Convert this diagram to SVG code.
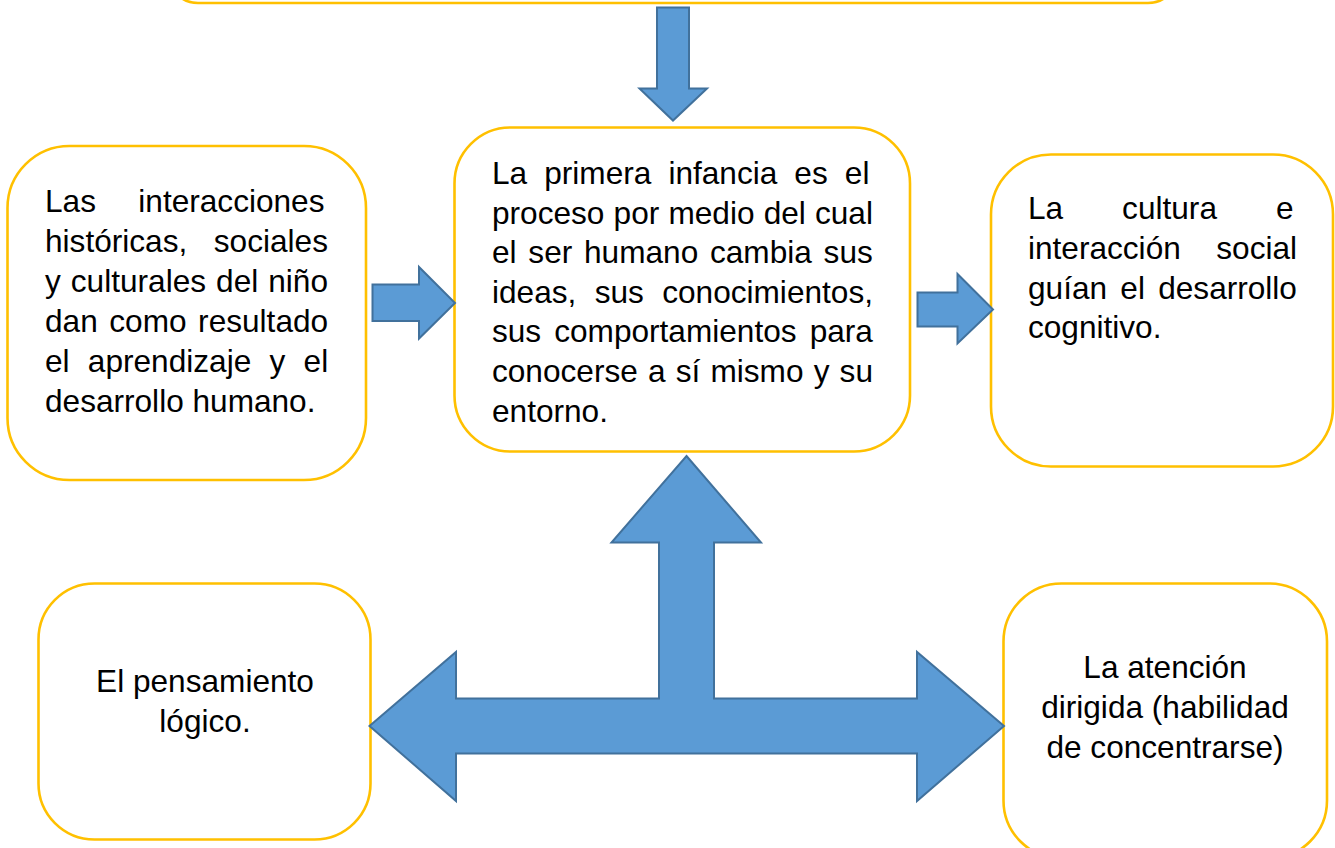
<svg xmlns="http://www.w3.org/2000/svg" width="1335" height="848" viewBox="0 0 1335 848">
<style>
.box{fill:#FFFFFF;stroke:#FFC000;stroke-width:2.6}
.arr{fill:#5B9BD5;stroke:#41719C;stroke-width:2;stroke-linejoin:miter}
text{font-family:"Liberation Sans",Arial,sans-serif;font-size:31.6px;fill:#000000}
.c{text-anchor:middle}
</style>
<rect width="1335" height="848" fill="#FFFFFF"/>
<g id="node-top">
<rect class="box" x="168" y="-80" width="1010" height="83" rx="30" ry="30" stroke-width="3.2"/>
</g>
<g id="node-center">
<rect class="box" x="454.5" y="127.5" width="455.5" height="324" rx="56" ry="56"/>
<text x="492" y="184" word-spacing="8.3">La primera infancia es el</text>
<text x="492" y="223.6" word-spacing="0.4">proceso por medio del cual</text>
<text x="492" y="263.2" word-spacing="3">el ser humano cambia sus</text>
<text x="492" y="302.8" word-spacing="9.6">ideas, sus conocimientos,</text>
<text x="492" y="342.4" word-spacing="4.3">sus comportamientos para</text>
<text x="492" y="382" word-spacing="1.4">conocerse a sí mismo y su</text>
<text x="492" y="421.6">entorno.</text>
</g>
<g id="node-left">
<rect class="box" x="7.5" y="146" width="358.5" height="334" rx="62" ry="62"/>
<text x="45" y="211.7" word-spacing="33.6">Las interacciones</text>
<text x="45" y="251.7" word-spacing="17.8">históricas, sociales</text>
<text x="45" y="291.7" word-spacing="1.25">y culturales del niño</text>
<text x="45" y="331.7" word-spacing="2.8">dan como resultado</text>
<text x="45" y="371.7" word-spacing="9.5">el aprendizaje y el</text>
<text x="45" y="411.7">desarrollo humano.</text>
</g>
<g id="node-right">
<rect class="box" x="991" y="154.5" width="342" height="312" rx="60" ry="60"/>
<text x="1028" y="219.3" word-spacing="50.2">La cultura e</text>
<text x="1028" y="259" word-spacing="26.7">interacción social</text>
<text x="1028" y="298.7" word-spacing="4.5">guían el desarrollo</text>
<text x="1028" y="338.4">cognitivo.</text>
</g>
<g id="node-bottom-left">
<rect class="box" x="38.5" y="583.5" width="332" height="256" rx="56" ry="56"/>
<text class="c" x="205" y="691.7">El pensamiento</text>
<text class="c" x="205" y="731.7">lógico.</text>
</g>
<g id="node-bottom-right">
<rect class="box" x="1003.5" y="583.5" width="323.5" height="275" rx="58" ry="58"/>
<text class="c" x="1165" y="677.7">La atención</text>
<text class="c" x="1165" y="717.8">dirigida (habilidad</text>
<text class="c" x="1165" y="757.9">de concentrarse)</text>
</g>
<g id="connectors">
<polygon class="arr" points="657,7.5 689,7.5 689,88.5 707,88.5 673,120.5 639.5,88.5 657,88.5"/>
<polygon class="arr" points="372.5,284.5 419,284.5 419,267 455,303 419,338.5 419,321 372.5,321"/>
<polygon class="arr" points="917.5,292.5 957.5,292.5 957.5,274 993,309.5 957.5,343.5 957.5,326.5 917.5,326.5"/>
<polygon class="arr" points="686.5,456 761,542.5 714,542.5 714,698.5 917,698.5 917,652 1004,726 917,801 917,753.5 456,753.5 456,801 369.5,726 456,652 456,698.5 659,698.5 659,542.5 611.5,542.5"/>
</g>
</svg>
